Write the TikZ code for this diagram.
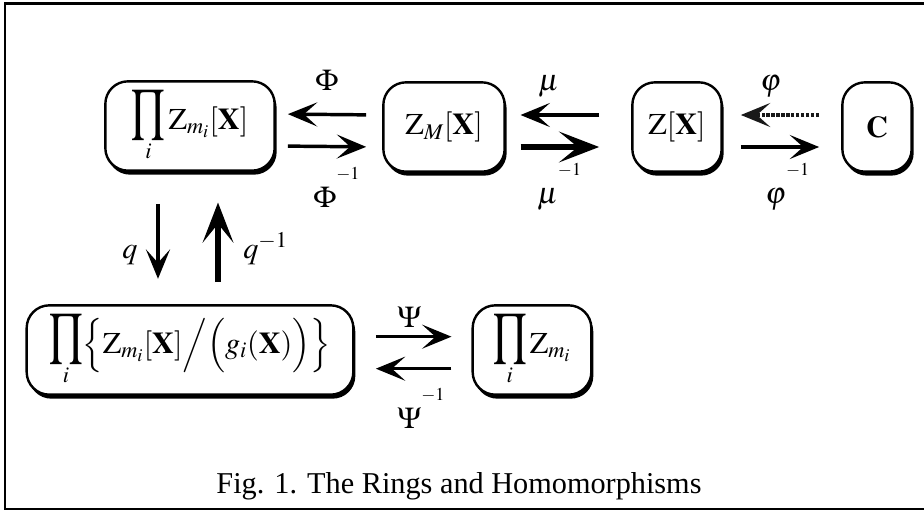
\documentclass[tikz,border=0pt]{standalone}
\usepackage{mathptmx}
\usepackage{graphicx}
\usepackage{fontspec}
\setmainfont{Liberation Serif}
\usepackage{tikz}
\usetikzlibrary{arrows.meta,positioning,calc,shadows}
\newcommand{\hinv}{^{\raisebox{0.55em}{$\scriptscriptstyle -1$}}}
\newcommand{\bigprod}{\mathop{\sbox0{\resizebox*{25pt}{37pt}{$\textstyle\prod$}}\raisebox{\dimexpr\dp0-7.5pt\relax}{\usebox0}}\limits}
\tikzset{
  >={Stealth[length=22pt,width=18pt,inset=10pt]},
  ring/.style={draw,line width=1.8pt,rounded corners=17pt,fill=white,minimum height=67pt,inner sep=4pt,
    drop shadow={shadow xshift=1.5pt,shadow yshift=-3pt,opacity=1,fill=black}},
  arr/.style={->,line width=2.6pt},
  tarr/.style={arr,line width=5pt,>={Stealth[length=30pt,width=23pt,inset=14pt]}},
  darr/.style={arr,dash pattern=on 2.5pt off 1.2pt,black!90},
  lab/.style={inner sep=0pt,anchor=base west},
}
\begin{document}
\begin{tikzpicture}[x=0.75pt,y=-0.75pt,font=\fontsize{22.7}{27}\selectfont]
\useasboundingbox (0,0) rectangle (924,511);
\draw[line width=2.2pt] (924,3.5) -- (5,3.5) -- (5,509) -- (924,509);
% rings
\node[ring,minimum width=127pt] (prodx) at (190,126) {$\bigprod_i \mathrm{Z}_{m_i}[\mathbf{X}]$};
\node[ring,minimum width=91pt] (zmx) at (444,127) {$\mathrm{Z}_M[\mathbf{X}]$};
\node[ring,minimum width=67pt] (zx) at (677,127) {$\mathrm{Z}[\mathbf{X}]$};
\node[ring,minimum width=52pt] (cc) at (877,127) {$\mathbf{C}$};
\node[ring,minimum width=245pt] (quot) at (190,350) {$\bigprod_i \Bigl\{\mathrm{Z}_{m_i}[\mathbf{X}]\Big/\Bigl(g_i(\mathbf{X})\Bigr)\Bigr\}$};
\node[ring,minimum width=89pt] (prodz) at (532,350) {$\bigprod_i \mathrm{Z}_{m_i}$};
% top row
\draw[arr,shorten <=12pt,shorten >=9pt] ([yshift=9pt]zmx.west) -- ([yshift=9pt]prodx.east);
\draw[arr,shorten <=9pt,shorten >=12pt] ([yshift=-15pt]prodx.east) -- ([yshift=-15pt]zmx.west);
\draw[arr,shorten <=24pt,shorten >=11pt] ([yshift=9pt]zx.west) -- ([yshift=9pt]zmx.east);
\draw[tarr,shorten <=11pt,shorten >=24pt] ([yshift=-15pt]zmx.east) -- ([yshift=-15pt]zx.west);
\draw[darr,shorten <=16.5pt,shorten >=13.5pt] ([yshift=9pt]cc.west) -- ([yshift=9pt]zx.east);
\draw[arr,shorten <=13.5pt,shorten >=16.5pt] ([yshift=-15pt]zx.east) -- ([yshift=-15pt]cc.west);
% down and up
\draw[arr,shorten <=24pt,shorten >=19pt] ([xshift=-24pt]prodx.south) -- ([xshift=-24pt]quot.north);
\draw[tarr,shorten <=16.5pt,shorten >=23pt] ([xshift=21pt]quot.north) -- ([xshift=21pt]prodx.south);
% bottom row
\draw[arr,shorten <=16pt,shorten >=15pt] ([yshift=10pt]quot.east) -- ([yshift=10pt]prodz.west);
\draw[arr,shorten <=15pt,shorten >=16pt] ([yshift=-14pt]prodz.west) -- ([yshift=-14pt]quot.east);
% labels
\node[lab] (phil) at (315,90) {$\Phi$};
\node[lab] (phiinvl) at (313,207) {$\Phi\hinv$};
\node[lab] (mul) at (538,90) {$\mu$};
\node[lab] (muinvl) at (537,203) {$\mu\hinv$};
\node[lab] (vphil) at (760,90) {$\varphi$};
\node[lab] (vphiinvl) at (765,203) {$\varphi\hinv$};
\node[lab] (ql) at (122,258) {$q$};
\node[lab] (qinvl) at (243,258) {$q^{-1}$};
\node[lab] (psil) at (397,327) {$\Psi$};
\node[lab] (psiinvl) at (397,428) {$\Psi\hinv$};
% caption
\node[anchor=base] (cap) at (459,493) {Fig. 1. The Rings and Homomorphisms};
\end{tikzpicture}
\end{document}
